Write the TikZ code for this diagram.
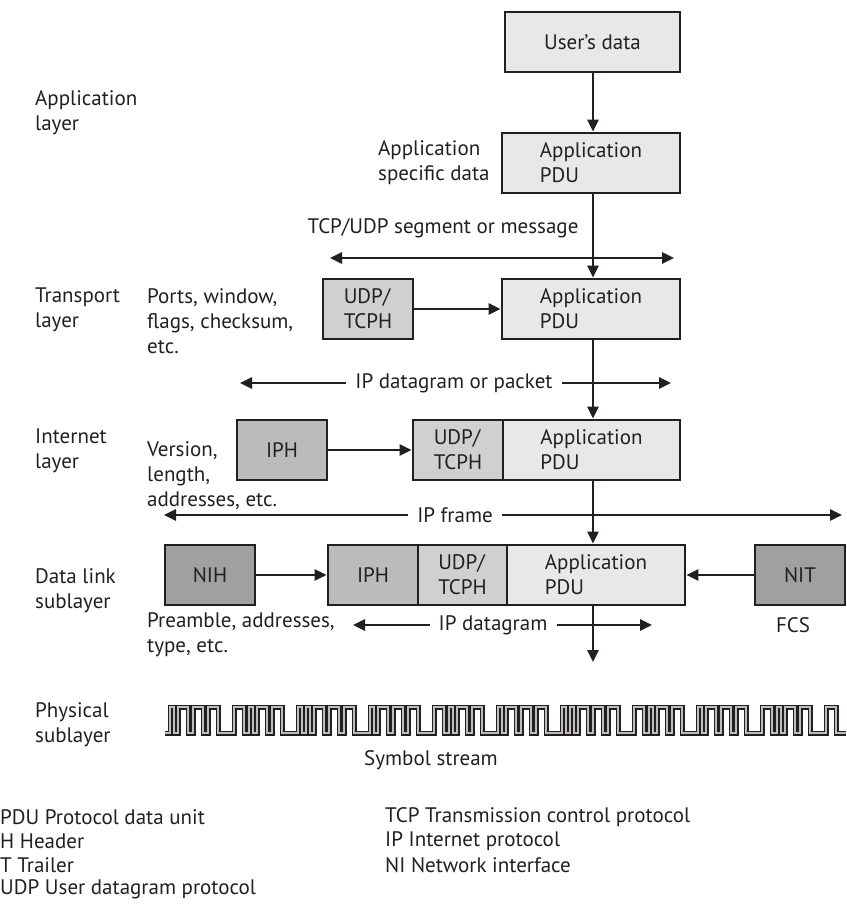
\documentclass[tikz,border=0pt]{standalone}
\usepackage{fontspec}
\setmainfont{PT Sans}
\usetikzlibrary{arrows.meta}
\definecolor{ink}{HTML}{231F20}
\definecolor{pdufill}{HTML}{E8E8E8}
\definecolor{hdrfill}{HTML}{D0D0D0}
\definecolor{iphfill}{HTML}{BBBBBB}
\definecolor{nifill}{HTML}{A0A0A0}
\definecolor{wavecore}{HTML}{BDBDBD}
\begin{document}
\begin{tikzpicture}[x=1pt,y=-1pt,
  every node/.style={font=\fontsize{21}{25}\selectfont, text=ink},
  box/.style={draw=ink, line width=2.9pt, minimum height=60pt, inner sep=0pt, align=left},
  pdu/.style={box, fill=pdufill, minimum width=178pt},
  hdr/.style={box, fill=hdrfill, minimum width=90pt},
  iph/.style={box, fill=iphfill, minimum width=90pt},
  nib/.style={box, fill=nifill, minimum width=90pt},
  lbl/.style={anchor=west, inner sep=0pt, align=left},
  mid/.style={inner sep=9pt},
  flow/.style={draw=ink, line width=2.6pt, -{Triangle[length=12pt,width=11pt]}},
  span/.style={draw=ink, line width=2.6pt, {Triangle[length=12pt,width=11pt]}-{Triangle[length=12pt,width=11pt]}},
  wave/.style={draw=ink, line width=1.9pt, double=wavecore, double distance=1.2pt, line join=miter}
]
\useasboundingbox (0,0) rectangle (846,904);

% ---- layer names ----
\node[lbl] (lapp)  at (35,113) {Application\\layer};
\node[lbl] (ltr)   at (35,310) {Transport\\layer};
\node[lbl] (lint)  at (35,451) {Internet\\layer};
\node[lbl] (ldl)   at (35,591) {Data link\\sublayer};
\node[lbl] (lphy)  at (35,725) {Physical\\sublayer};

% ---- application layer ----
\node[box, fill=pdufill, minimum width=175pt, align=center] (user) at (592.5,42) {User's data};
\node[pdu] (app1) at (591,163) {Application\\PDU};
\node[lbl] (appnote) at (378,163) {Application\\specific data};
\coordinate (spine) at (593,0);
\draw[flow] (user.south -| spine) -- (app1.north -| spine);

% ---- transport layer ----
\node (segtxt) at (443,228) {TCP/UDP segment or message};
\coordinate (segL) at (330,258);
\coordinate (segR) at (674,258);
\draw[span] (segL) -- (segR);

\node[hdr] (tudp) at (368,309) {UDP/\\TCPH};
\node[pdu] (tapp) at (591,309) {Application\\PDU};
\node[lbl] (trnote) at (147,321) {Ports, window,\\flags, checksum,\\etc.};
\draw[flow] (tudp) -- (tapp);
\draw[flow] (app1.south -| spine) -- (tapp.north -| spine);

% ---- internet layer ----
\node[mid] (pkttxt) at (454,383) {IP datagram or packet};
\coordinate (pktL) at (240,383);
\coordinate (pktR) at (671,383);
\draw[flow] (pkttxt.west) -- (pktL);
\draw[flow] (pkttxt.east) -- (pktR);

\node[iph] (iiph) at (282,450) {IPH};
\node[hdr] (iudp) at (458,450) {UDP/\\TCPH};
\node[box, fill=pdufill, minimum width=177pt] (iapp) at (591.5,450) {Application\\PDU};
\node[lbl] (innote) at (147,476) {Version,\\length,\\addresses, etc.};
\draw[flow] (iiph) -- (iudp);
\draw[flow] (tapp.south -| spine) -- (iapp.north -| spine);

% ---- data link sublayer ----
\node[mid] (frmtxt) at (455,515) {IP frame};
\coordinate (frmL) at (164,515);
\coordinate (frmR) at (842,515);
\draw[flow] (frmtxt.west) -- (frmL);
\draw[flow] (frmtxt.east) -- (frmR);

\node[nib] (nih) at (210,575) {NIH};
\node[iph] (liph) at (373,575) {IPH};
\node[box, fill=hdrfill, minimum width=89pt] (ludp) at (462.5,575) {UDP/\\TCPH};
\node[pdu] (dapp) at (596,575) {Application\\PDU};
\node[nib] (nit) at (800,575) {NIT};
\draw[flow] (nih) -- (liph);
\draw[flow] (nit) -- (dapp);
\draw[flow] (iapp.south -| spine) -- (dapp.north -| spine);

\node[lbl] (dlnote) at (147,635) {Preamble, addresses,\\type, etc.};
\node (fcs) at (793,625) {FCS};
\node[mid] (dgtxt) at (493,625) {IP datagram};
\coordinate (dgL) at (353,625);
\coordinate (dgR) at (652,625);
\draw[flow] (dgtxt.west) -- (dgL);
\draw[flow] (dgtxt.east) -- (dgR);
\coordinate (phyin) at (593,662);
\draw[flow] (dapp.south -| spine) -- (phyin);

% ---- physical sublayer: symbol stream ----
\draw[wave] (165,733) -- ++(5,0)
  \foreach \h/\l in {4/4,10/5,10/5,10/16,  10/5,4/4,10/5,10/16,
                     4/4,4/4,10/5,10/5,10/16,  4/4,10/5,10/5,10/16,
                     10/5,4/4,10/5,10/16,  4/4,10/5,10/5,10/16,
                     4/4,4/4,10/5,10/5,10/16,  10/5,4/4,10/5,10/16,
                     4/4,10/5,10/5,10/16,  10/5,4/4,10/5,10/16,  10/10}
  { -- ++(0,-26) -- ++(\h,0) -- ++(0,26) -- ++(\l,0) };
\node (symtxt) at (431,760) {Symbol stream};

% ---- abbreviations ----
\node[lbl] (ab1) at (0,817) {PDU Protocol data unit};
\node[lbl] (ab2) at (0,841) {H Header};
\node[lbl] (ab3) at (0,865) {T Trailer};
\node[lbl] (ab4) at (0,889) {UDP User datagram protocol};
\node[lbl] (ab5) at (385,817) {TCP Transmission control protocol};
\node[lbl] (ab6) at (385,841) {IP Internet protocol};
\node[lbl] (ab7) at (385,865) {NI Network interface};
\end{tikzpicture}
\end{document}
